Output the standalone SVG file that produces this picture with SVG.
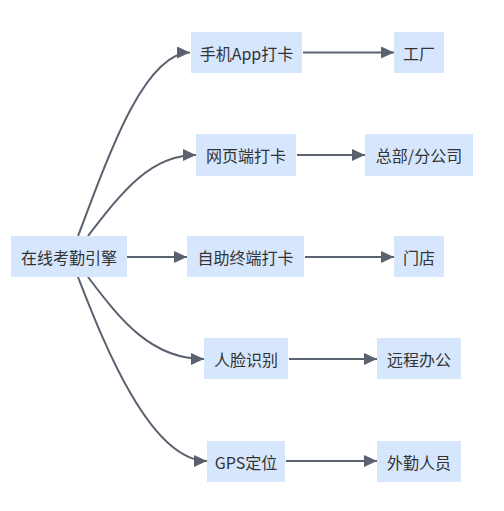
<svg xmlns="http://www.w3.org/2000/svg" width="504" height="511" viewBox="0 0 504 511">
<style>
.box{fill:#d6e7fd;}
.lbl{font-family:"Noto Sans CJK SC","Microsoft YaHei",sans-serif;font-size:16px;fill:#333;text-anchor:middle;dominant-baseline:central;}
.edge{fill:none;stroke:#5a6270;stroke-width:2;}
</style>
<defs>
<marker id="arr" markerUnits="userSpaceOnUse" markerWidth="14" markerHeight="12" refX="13" refY="6" orient="auto">
<path d="M0,0 L13,6 L0,12 Z" fill="#5a6270"/>
</marker>
</defs>
<rect width="504" height="511" fill="#ffffff"/>
<g id="connectors">
<path class="edge" marker-end="url(#arr)" d="M78,236 C100,180 140,52.5 190,52.5"/>
<path class="edge" marker-end="url(#arr)" d="M88,236 C122,192 150,155 196,155"/>
<path class="edge" marker-end="url(#arr)" d="M127,257 L187,257"/>
<path class="edge" marker-end="url(#arr)" d="M88,277 C122,322 152,359 204,359"/>
<path class="edge" marker-end="url(#arr)" d="M78,277 C100,333 148,461 207,461"/>
<path class="edge" marker-end="url(#arr)" d="M303,52.5 L394,52.5"/>
<path class="edge" marker-end="url(#arr)" d="M297,155 L365,155"/>
<path class="edge" marker-end="url(#arr)" d="M305,257 L394,257"/>
<path class="edge" marker-end="url(#arr)" d="M289,359 L377,359"/>
<path class="edge" marker-end="url(#arr)" d="M286,461 L377,461"/>
</g>
<g id="root"><rect class="box" x="11" y="236" width="116" height="41"/><text class="lbl" x="69" y="256.5">在线考勤引擎</text></g>
<g id="app"><rect class="box" x="191" y="32" width="111" height="41"/><text class="lbl" x="246.5" y="52.5">手机App打卡</text></g>
<g id="web"><rect class="box" x="196" y="134" width="100" height="42"/><text class="lbl" x="246" y="155">网页端打卡</text></g>
<g id="kiosk"><rect class="box" x="187" y="236" width="117" height="41"/><text class="lbl" x="245.5" y="256.5">自助终端打卡</text></g>
<g id="face"><rect class="box" x="204" y="338" width="84" height="41"/><text class="lbl" x="246" y="358.5">人脸识别</text></g>
<g id="gps"><rect class="box" x="207" y="441" width="78" height="41"/><text class="lbl" x="246" y="461.5">GPS定位</text></g>
<g id="factory"><rect class="box" x="394" y="32" width="50" height="41"/><text class="lbl" x="419" y="52.5">工厂</text></g>
<g id="hq"><rect class="box" x="365" y="134" width="108" height="42"/><text class="lbl" x="419" y="155">总部/分公司</text></g>
<g id="store"><rect class="box" x="394" y="236" width="50" height="41"/><text class="lbl" x="419" y="256.5">门店</text></g>
<g id="remote"><rect class="box" x="377" y="338" width="84" height="41"/><text class="lbl" x="419" y="358.5">远程办公</text></g>
<g id="field"><rect class="box" x="377" y="441" width="84" height="41"/><text class="lbl" x="419" y="461.5">外勤人员</text></g>
</svg>
